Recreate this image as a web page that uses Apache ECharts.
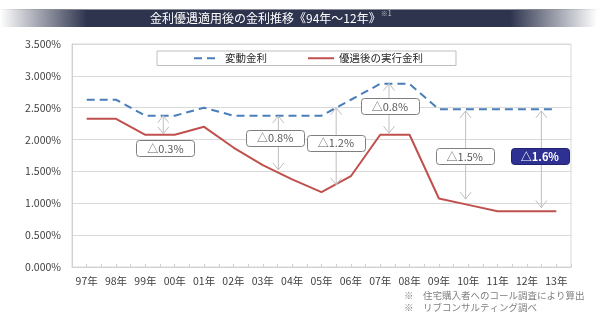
<!DOCTYPE html>
<html><head><meta charset="utf-8">
<script src="https://cdn.jsdelivr.net/npm/echarts@6/dist/echarts.min.js"></script>
<style>html,body{margin:0;padding:0;background:#fff}#c{width:600px;height:323px}</style>
</head><body><div id="c"></div>
<script>
const categories = ['97年','98年','99年','00年','01年','02年','03年','04年','05年','06年','07年','08年','09年','10年','11年','12年','13年'];
const floatingRate = [2.625,2.625,2.375,2.375,2.5,2.375,2.375,2.375,2.375,2.625,2.875,2.875,2.475,2.475,2.475,2.475,2.475];
const preferredRate = [2.325,2.325,2.075,2.075,2.2,1.875,1.6,1.375,1.175,1.425,2.075,2.075,1.075,0.975,0.875,0.875,0.875];
const seriesNames = ['変動金利','優遇後の実行金利'];
const gapLabels = ['△0.3%','△0.8%','△1.2%','△0.8%','△1.5%','△1.6%'];
const gapArrowX = [3.11, 7.03, 9.0, 10.8, 13.41, 15.99];
const gapArrowTop = [2.375, 2.37, 2.5, 2.88, 2.45, 2.45];
const gapArrowBottom = [2.09, 1.525, 1.29, 2.1, 1.066, 0.934];
const gapBoxX = [3.18, 6.92, 8.99, 10.83, 13.38, 15.94];
const gapBoxY = [1.86, 2.03, 1.95, 2.525, 1.74, 1.74];
const gapHighlight = [false, false, false, false, false, true];
const titleText = '金利優遇適用後の金利推移《94年～12年》';
const titleNote = '※1';
const footnotes = ['※　住宅購入者へのコール調査により算出', '※　リブコンサルティング調べ'];

const FONT = '"Noto Sans CJK JP", "Noto Sans", sans-serif';
const gapData = gapLabels.map((l, i) => [gapArrowX[i], gapArrowTop[i], gapArrowBottom[i], gapBoxX[i], gapBoxY[i]]);

function renderGap(params, api) {
  const i = params.dataIndex;
  const pT = api.coord([api.value(0), api.value(1)]);
  const pB = api.coord([api.value(0), api.value(2)]);
  const pC = api.coord([api.value(3), api.value(4)]);
  const hw = 5.5, hl = 7, w = 58, h = 16;
  const arrowStyle = {stroke: '#bfbfbf', lineWidth: 1, fill: null};
  const hi = gapHighlight[i];
  return {
    type: 'group',
    children: [
      {type: 'line', shape: {x1: pT[0], y1: pT[1], x2: pB[0], y2: pB[1]}, style: arrowStyle},
      {type: 'polyline', shape: {points: [[pT[0]-hw, pT[1]+hl],[pT[0], pT[1]],[pT[0]+hw, pT[1]+hl]]}, style: arrowStyle},
      {type: 'polyline', shape: {points: [[pB[0]-hw, pB[1]-hl],[pB[0], pB[1]],[pB[0]+hw, pB[1]-hl]]}, style: arrowStyle},
      {type: 'rect', shape: {x: Math.round(pC[0]-w/2)+0.5, y: Math.round(pC[1]-h/2)+0.5, width: w, height: h, r: 3},
        style: {fill: hi ? '#2e3192' : '#ffffff', stroke: hi ? '#1f2270' : '#7f7f7f', lineWidth: 1}},
      {type: 'text', x: pC[0], y: pC[1]+0.5,
        style: {text: gapLabels[i], fill: hi ? '#ffffff' : '#595959', font: (hi ? 'bold ' : '') + '11px ' + FONT,
          align: 'center', verticalAlign: 'middle'}}
    ]
  };
}

const chart = echarts.init(document.getElementById('c'), null, {renderer: 'canvas'});
chart.setOption({
  animation: false,
  backgroundColor: '#ffffff',
  textStyle: {fontFamily: FONT},
  grid: {left: 72, right: 29, top: 44, bottom: 56, show: true, borderColor: '#d9d9d9', borderWidth: 1, backgroundColor: 'transparent'},
  legend: {
    data: seriesNames, left: 157, top: 51,
    borderColor: '#bfbfbf', borderWidth: 1, padding: [2, 33, 2, 36],
    itemWidth: 26, itemHeight: 10, itemGap: 40,
    itemStyle: {opacity: 0},
    textStyle: {fontSize: 10.5, color: '#262626', fontFamily: FONT}
  },
  xAxis: [
    {type: 'category', data: categories, boundaryGap: true,
      axisLine: {show: true, lineStyle: {color: '#d0d0d0'}}, axisTick: {show: false},
      axisLabel: {fontSize: 10.5, color: '#404040', margin: 9, fontFamily: FONT, interval: 0},
      splitLine: {show: false}},
    {type: 'value', min: 0, max: 17, interval: 0.5, position: 'bottom',
      axisLine: {show: false}, axisLabel: {show: false}, splitLine: {show: false},
      axisTick: {show: true, inside: true, length: 3, lineStyle: {color: '#d0d0d0'}}}
  ],
  yAxis: {type: 'value', min: 0, max: 3.5, interval: 0.5,
    axisLine: {show: true, lineStyle: {color: '#d0d0d0'}}, axisTick: {show: false},
    axisLabel: {fontSize: 10.5, color: '#404040', margin: 11, fontFamily: FONT, formatter: v => v.toFixed(3) + '%'},
    splitLine: {lineStyle: {color: '#d9d9d9'}}},
  series: [
    {name: seriesNames[0], type: 'line', data: floatingRate, symbol: 'none', z: 2,
      lineStyle: {color: '#4a7ebb', width: 2, type: [8, 5]}, itemStyle: {color: '#4a7ebb'}},
    {name: seriesNames[1], type: 'line', data: preferredRate, symbol: 'none', z: 2,
      lineStyle: {color: '#c0504d', width: 2}, itemStyle: {color: '#c0504d'}},
    {type: 'custom', xAxisIndex: 1, yAxisIndex: 0, data: gapData, renderItem: renderGap, z: 5,
      encode: {x: [0, 3], y: [1, 2, 4]}, silent: true}
  ],
  graphic: [
    {type: 'rect', left: 0, top: 9, shape: {width: 600, height: 18}, z: 1,
      style: {fill: new echarts.graphic.LinearGradient(0, 0, 1, 0, [
        {offset: 0, color: 'rgba(46,52,78,0)'}, {offset: 0.145, color: '#2e344e'},
        {offset: 0.85, color: '#2e344e'}, {offset: 0.995, color: 'rgba(46,52,78,0)'}])}},
    {type: 'line', shape: {x1: 0, y1: 9.5, x2: 600, y2: 9.5}, z: 2,
      style: {stroke: new echarts.graphic.LinearGradient(0, 0, 1, 0, [
        {offset: 0, color: 'rgba(150,150,150,0)'}, {offset: 0.15, color: '#8a8c96'},
        {offset: 0.85, color: '#8a8c96'}, {offset: 1, color: 'rgba(150,150,150,0)'}]), lineWidth: 1}},
    {type: 'text', left: 150, top: 10, z: 3,
      style: {text: '{a|' + titleText + '}{b|' + titleNote + '}', fill: '#ffffff',
        rich: {a: {fontSize: 12, fontFamily: FONT, fill: '#ffffff', lineHeight: 16, verticalAlign: 'middle'},
               b: {fontSize: 7, fontFamily: FONT, fill: '#c8cad4', lineHeight: 16, verticalAlign: 'top'}}}},
    {type: 'text', left: 404, top: 291, z: 3,
      style: {text: footnotes[0], fill: '#808080', font: '9.5px ' + FONT}},
    {type: 'text', left: 404, top: 303, z: 3,
      style: {text: footnotes[1], fill: '#808080', font: '9.5px ' + FONT}}
  ]
});
</script></body></html>
